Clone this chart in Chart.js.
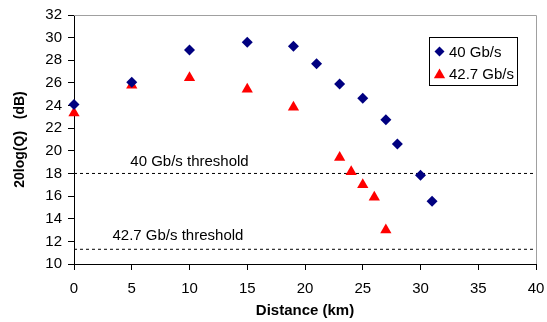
<!DOCTYPE html>
<html>
<head>
<meta charset="utf-8">
<script src="https://cdn.jsdelivr.net/npm/chart.js@4.4.1/dist/chart.umd.min.js"></script>
<style>
  html, body { margin: 0; padding: 0; background: #fff; }
  #wrap { width: 547px; height: 322px; }
</style>
</head>
<body>
<div id="wrap"><canvas id="qChart" width="547" height="322"></canvas></div>
<script>
// Distances (km) and 20log(Q) readings for each bit rate
const dist40 = [0, 5, 10, 15, 19, 21, 23, 25, 27, 28, 30, 31];
const q40 = [24.1, 26.05, 28.9, 29.6, 29.25, 27.7, 25.9, 24.65, 22.75, 20.6, 17.85, 15.55];
const dist427 = [0, 5, 10, 15, 19, 23, 24, 25, 26, 27];
const q427 = [23.35, 25.8, 26.45, 25.45, 23.85, 19.4, 18.15, 17.0, 15.9, 13.0];

// Threshold levels (dB)
const threshold40 = 18;
const threshold427 = 11.3;
const thresholdLabels = ['40 Gb/s threshold', '42.7 Gb/s threshold'];

const xTicks = { min: 0, max: 40, step: 5 };
const yTicks = { min: 10, max: 32, step: 2 };

const FONT = 'Liberation Sans, Arial, sans-serif';
const NAVY = '#000080';
const RED = '#FF0000';

function toPoints(xs, ys) {
    return xs.map((x, i) => ({ x: x, y: ys[i] }));
}

function diamond(ctx, x, y, r) {
    ctx.beginPath();
    ctx.moveTo(x, y - r);
    ctx.lineTo(x + r, y);
    ctx.lineTo(x, y + r);
    ctx.lineTo(x - r, y);
    ctx.closePath();
    ctx.fill();
}

function triangle(ctx, x, y, r) {
    const h = r * Math.sqrt(3) / 2;
    ctx.beginPath();
    ctx.moveTo(x, y - r);
    ctx.lineTo(x + h, y + r / 2);
    ctx.lineTo(x - h, y + r / 2);
    ctx.closePath();
    ctx.fill();
}

// gray frame on top/right, threshold captions, and the boxed legend
const decorPlugin = {
    id: 'decor',
    beforeDatasetsDraw(chart) {
        const { ctx, chartArea: a } = chart;
        ctx.save();
        ctx.strokeStyle = '#a0a0a0';
        ctx.lineWidth = 1;
        ctx.beginPath();
        ctx.moveTo(a.left, a.top + 0.5);
        ctx.lineTo(a.right + 0.5, a.top + 0.5);
        ctx.lineTo(a.right + 0.5, a.bottom);
        ctx.stroke();
        ctx.restore();
    },
    afterDraw(chart) {
        const { ctx, chartArea: a, scales } = chart;
        ctx.save();
        ctx.fillStyle = '#000';
        ctx.font = '15px ' + FONT;
        ctx.textAlign = 'center';
        ctx.textBaseline = 'middle';
        ctx.fillText(thresholdLabels[0], scales.x.getPixelForValue(10), scales.y.getPixelForValue(19.05));
        ctx.fillText(thresholdLabels[1], scales.x.getPixelForValue(9), scales.y.getPixelForValue(12.45));

        // legend box
        const bx = a.right - 106.5, by = a.top + 22.5, bw = 88, bh = 48;
        ctx.fillStyle = '#fff';
        ctx.fillRect(bx, by, bw, bh);
        ctx.strokeStyle = '#000';
        ctx.lineWidth = 1;
        ctx.strokeRect(bx, by, bw, bh);

        const sets = chart.data.datasets.filter(d => !d.isThreshold);
        ctx.textAlign = 'left';
        sets.forEach((ds, i) => {
            const cy = by + 14 + i * 22.5;
            ctx.fillStyle = ds.backgroundColor;
            if (ds.pointStyle === 'rectRot') diamond(ctx, bx + 10, cy, 5);
            else triangle(ctx, bx + 10, cy + 1, 6.5);
            ctx.fillStyle = '#000';
            ctx.fillText(ds.label, bx + 19.5, cy + 1);
        });
        ctx.restore();
    }
};

const ctx = document.getElementById('qChart').getContext('2d');
new Chart(ctx, {
    type: 'scatter',
    data: {
        datasets: [
            {
                label: '40 Gb/s',
                data: toPoints(dist40, q40),
                pointStyle: 'rectRot',
                pointRadius: 5.5,
                backgroundColor: NAVY,
                borderColor: NAVY,
                borderWidth: 0,
                clip: false
            },
            {
                label: '42.7 Gb/s',
                data: toPoints(dist427, q427),
                pointStyle: 'triangle',
                pointRadius: 6.5,
                backgroundColor: RED,
                borderColor: RED,
                borderWidth: 0,
                clip: false
            },
            {
                label: 'thr40',
                isThreshold: true,
                type: 'line',
                data: [{ x: xTicks.min, y: threshold40 }, { x: xTicks.max, y: threshold40 }],
                borderColor: '#000',
                borderWidth: 1,
                borderDash: [3, 3],
                pointRadius: 0,
                fill: false
            },
            {
                label: 'thr427',
                isThreshold: true,
                type: 'line',
                data: [{ x: xTicks.min, y: threshold427 }, { x: xTicks.max, y: threshold427 }],
                borderColor: '#000',
                borderWidth: 1,
                borderDash: [3, 3],
                pointRadius: 0,
                fill: false
            }
        ]
    },
    options: {
        responsive: false,
        animation: false,
        devicePixelRatio: 1,
        layout: { padding: { top: 15, right: 11, left: 0, bottom: 0 } },
        plugins: {
            legend: { display: false },
            tooltip: { enabled: false }
        },
        scales: {
            x: {
                type: 'linear',
                min: xTicks.min,
                max: xTicks.max,
                afterFit: s => {
                    s.height = 58;
                    s.paddingLeft = 0;
                    s.paddingRight = 0;
                },
                border: { color: '#000', width: 1 },
                grid: { drawOnChartArea: false, drawTicks: true, tickLength: 6, tickColor: '#000' },
                ticks: {
                    stepSize: xTicks.step,
                    color: '#000',
                    padding: 10,
                    maxRotation: 0,
                    font: { family: FONT, size: 15 }
                },
                title: {
                    display: true,
                    text: 'Distance (km)',
                    color: '#000',
                    padding: { top: 0, bottom: 2 },
                    font: { family: FONT, size: 15, weight: 'bold' }
                }
            },
            y: {
                type: 'linear',
                min: yTicks.min,
                max: yTicks.max,
                afterFit: s => { s.width = 74; },
                border: { color: '#000', width: 1 },
                grid: { drawOnChartArea: false, drawTicks: true, tickLength: 6, tickColor: '#000' },
                ticks: {
                    stepSize: yTicks.step,
                    color: '#000',
                    padding: 6,
                    font: { family: FONT, size: 15 }
                },
                title: {
                    display: true,
                    text: '20log(Q)   (dB)',
                    color: '#000',
                    padding: { top: 12, bottom: 0 },
                    font: { family: FONT, size: 14, weight: 'bold' }
                }
            }
        }
    },
    plugins: [decorPlugin]
});
</script>
</body>
</html>
